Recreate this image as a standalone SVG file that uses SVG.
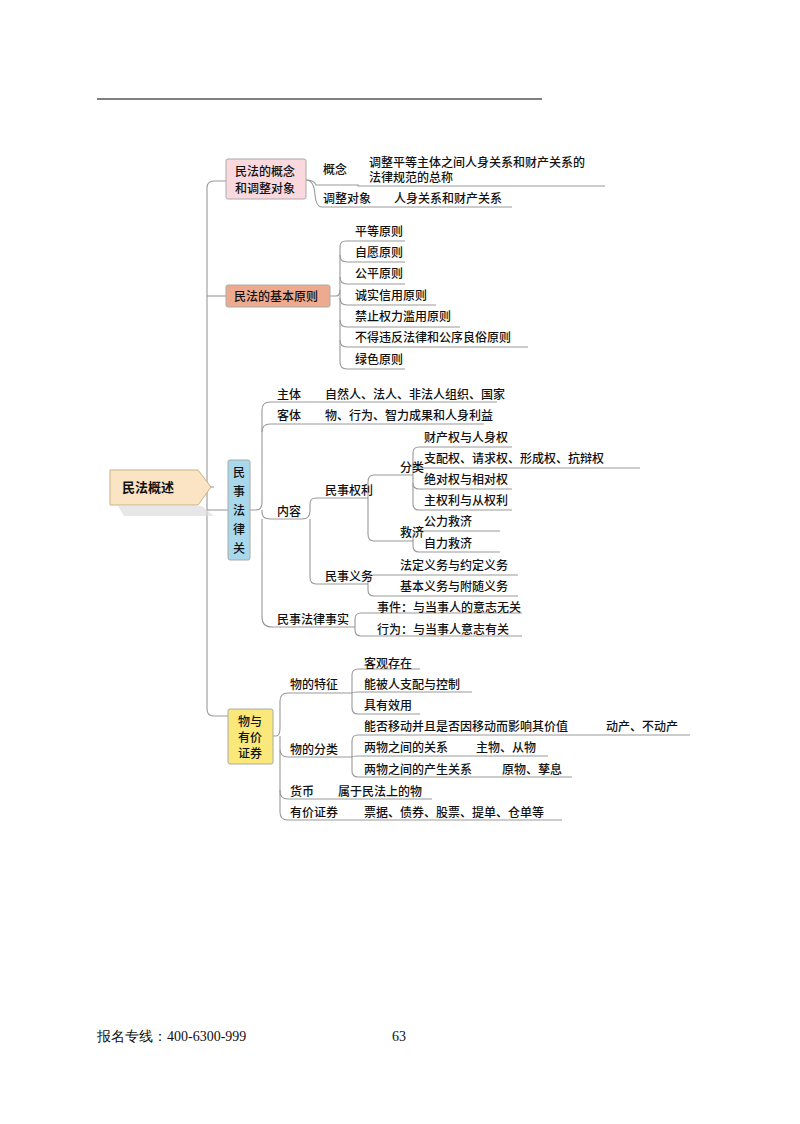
<svg xmlns="http://www.w3.org/2000/svg" width="800" height="1124" viewBox="0 0 800 1124">
<style>
text{font-family:"Noto Sans CJK SC","Noto Sans",sans-serif;font-size:12px;fill:#111;font-weight:500}
.c path,.c line{stroke:#999;stroke-width:1.1;fill:none}
.box{stroke:#aaa;stroke-width:1}
.f{font-family:"Liberation Serif",serif;font-size:14px;font-weight:400}
</style>
<rect width="800" height="1124" fill="#fff"/>
<line x1="97" y1="99" x2="542" y2="99" stroke="#000" stroke-width="1.2"/>
<g class="c">
<path d="M207,487 H214"/>
<path d="M226,181 H214 Q207,181 207,188 V709 Q207,716 214,716 H228"/>
<path d="M207,296 H226"/><path d="M207,510 H228"/>
<!-- box1 -->
<path d="M306,180 Q314,180 316,185 H358 V186 H605"/>
<path d="M306,180 Q314,180 315,195 Q316,207 322,207 H512"/>
<!-- box2 -->
<path d="M330,296 H336 Q340,296 340,290 V247 Q340,241 346,241 H405"/>
<path d="M340,255 Q340,262 347,262 H405"/><path d="M340,277 Q340,284 347,284 H405"/>
<path d="M340,298 Q340,305 347,305 H436"/><path d="M340,320 Q340,327 347,327 H460"/>
<path d="M340,340 Q340,347 347,347 H528"/><path d="M340,290 V362 Q340,369 347,369 H405"/>
<!-- box3 -->
<path d="M250,510 H256 Q262,510 262,502 V410 Q262,402 270,402 H497"/>
<path d="M262,432 Q262,424 270,424 H484"/><path d="M262,510 V512 Q262,519 270,519 H302"/>
<path d="M262,519 V617 Q262,627 272,627 H355"/>
<path d="M302,519 Q310,519 310,511 V504 Q310,498 316,498 H368"/>
<path d="M310,519 V577 Q310,584 316,584 H368"/>
<path d="M368,498 Q368,490 368,482 Q368,475 374,475 H413"/>
<path d="M368,498 V534 Q368,541 374,541 H413"/>
<path d="M413,475 V453 Q413,447 419,447 H512"/><path d="M413,462 Q413,468 419,468 H640"/>
<path d="M413,475 V483 Q413,489 419,489 H512"/><path d="M413,483 V504 Q413,510 419,510 H512"/>
<path d="M413,541 V537 Q413,531 419,531 H500"/><path d="M413,541 V546 Q413,552 419,552 H500"/>
<path d="M368,584 V581 Q368,575 374,575 H518"/><path d="M368,584 V590 Q368,596 374,596 H518"/>
<path d="M355,627 V619 Q355,613 361,613 H522"/><path d="M355,627 V630 Q355,636 361,636 H522"/>
<!-- box4 -->
<path d="M273,736 H276 Q280,736 280,728 V701 Q280,693 288,693 H352"/>
<path d="M280,736 V749 Q280,757 288,757 H352"/>
<path d="M280,750 V791 Q280,799 288,799 H432"/><path d="M280,790 V812 Q280,820 288,820 H562"/>
<path d="M352,693 V675 Q352,669 358,669 H420"/><path d="M352,693 Q352,692 358,692 H472"/>
<path d="M352,693 V708 Q352,714 358,714 H420"/>
<path d="M352,757 V741 Q352,735 358,735 H690"/><path d="M352,757 Q352,756 358,756 H548"/>
<path d="M352,757 V771 Q352,777 358,777 H572"/>
</g>
<g id="root">
<path d="M118,506 L202,506 L214,516 L124,516 Z" fill="#ddd" opacity="0.7"/>
<path d="M110,470 H198 L211,487 L198,505 H110 Z" fill="#fbe4c3" stroke="#c9b08a"/>
<text x="122" y="492" style="font-size:13px;font-weight:700">民法概述</text>
</g>
<g id="n1"><rect class="box" x="226" y="159" width="80" height="40" rx="2" fill="#f9d9de"/>
<text x="235" y="176">民法的概念</text><text x="235" y="193">和调整对象</text>
<text x="323" y="174">概念</text><text x="369" y="167">调整平等主体之间人身关系和财产关系的</text><text x="369" y="182">法律规范的总称</text>
<text x="323" y="203">调整对象</text><text x="394" y="203">人身关系和财产关系</text></g>
<g id="n2"><rect class="box" x="226" y="285" width="104" height="22" rx="2" fill="#eeaa8f"/>
<text x="234" y="301">民法的基本原则</text>
<text x="355" y="236">平等原则</text><text x="355" y="257">自愿原则</text><text x="355" y="278">公平原则</text>
<text x="355" y="300">诚实信用原则</text><text x="355" y="321">禁止权力滥用原则</text>
<text x="355" y="342">不得违反法律和公序良俗原则</text><text x="355" y="364">绿色原则</text></g>
<g id="n3"><rect class="box" x="228" y="460" width="22" height="100" rx="2" fill="#a8d8ea"/>
<text x="233" y="477">民</text><text x="233" y="496">事</text><text x="233" y="515">法</text><text x="233" y="534">律</text><text x="233" y="553">关</text><text x="233" y="572" style="display:none">系</text>
<text x="277" y="399">主体</text><text x="325" y="399">自然人、法人、非法人组织、国家</text>
<text x="277" y="420">客体</text><text x="325" y="420">物、行为、智力成果和人身利益</text>
<text x="277" y="516">内容</text><text x="325" y="495">民事权利</text><text x="325" y="581">民事义务</text>
<text x="400" y="472">分类</text><text x="400" y="537">救济</text>
<text x="424" y="442">财产权与人身权</text><text x="424" y="463">支配权、请求权、形成权、抗辩权</text>
<text x="424" y="484">绝对权与相对权</text><text x="424" y="505">主权利与从权利</text>
<text x="424" y="526">公力救济</text><text x="424" y="548">自力救济</text>
<text x="400" y="570">法定义务与约定义务</text><text x="400" y="591">基本义务与附随义务</text>
<text x="277" y="624">民事法律事实</text><text x="377" y="612">事件：与当事人的意志无关</text><text x="377" y="634">行为：与当事人意志有关</text></g>
<g id="n4"><rect class="box" x="228" y="709" width="45" height="55" rx="2" fill="#fbe87a"/>
<text x="238" y="726">物与</text><text x="238" y="742">有价</text><text x="238" y="758">证券</text>
<text x="290" y="689">物的特征</text><text x="364" y="668">客观存在</text><text x="364" y="689">能被人支配与控制</text><text x="364" y="710">具有效用</text>
<text x="290" y="754">物的分类</text><text x="364" y="731">能否移动并且是否因移动而影响其价值</text><text x="606" y="731">动产、不动产</text>
<text x="364" y="752">两物之间的关系</text><text x="476" y="752">主物、从物</text>
<text x="364" y="774">两物之间的产生关系</text><text x="502" y="774">原物、孳息</text>
<text x="290" y="796">货币</text><text x="338" y="796">属于民法上的物</text>
<text x="290" y="817">有价证券</text><text x="364" y="817">票据、债券、股票、提单、仓单等</text></g>
<text class="f" x="97" y="1041">报名专线：400-6300-999</text>
<text class="f" x="392" y="1041">63</text>
</svg>
